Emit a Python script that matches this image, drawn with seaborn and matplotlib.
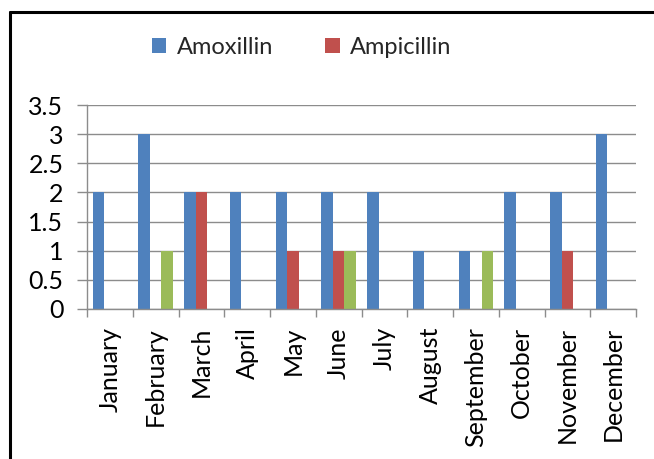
import numpy as np
import pandas as pd
import matplotlib
matplotlib.use("Agg")
import matplotlib.pyplot as plt
import seaborn as sns
from matplotlib.lines import Line2D

months = ["January", "February", "March", "April", "May", "June", "July",
          "August", "September", "October", "November", "December"]
amoxillin = [2, 3, 2, 2, 2, 2, 2, 1, 1, 2, 2, 3]
ampicillin = [0, 0, 2, 0, 1, 1, 0, 0, 0, 0, 1, 0]
other = [0, 1, 0, 0, 0, 1, 0, 0, 1, 0, 0, 0]
series_names = ["Amoxillin", "Ampicillin", "Other"]
series_colors = ["#4F81BD", "#C0504D", "#9BBB59"]
y_ticks = [0, 0.5, 1, 1.5, 2, 2.5, 3, 3.5]

df = pd.DataFrame({
    "Month": months * 3,
    "Count": amoxillin + ampicillin + other,
    "Series": [s for s in series_names for _ in months],
})

sns.set_theme(style="white")
plt.rcParams["font.family"] = ["Lato", "DejaVu Sans"]

fig = plt.figure(figsize=(6.54, 4.59), dpi=100)
ax = fig.add_axes([87 / 654, 1 - 309 / 459, (636 - 87) / 654, (309 - 105) / 459])

sns.barplot(data=df, x="Month", y="Count", hue="Series", order=months,
            hue_order=series_names, palette=series_colors, width=0.75,
            saturation=1, dodge=True, ax=ax, legend=True)

for bar in ax.patches:
    bar.set_edgecolor("none")

ax.set_ylim(0, 3.5)
ax.set_xlim(-0.5, len(months) - 0.5)
ax.set_yticks(y_ticks, labels=[f"{v:g}" for v in y_ticks])
ax.set_xticks(np.arange(-0.5, len(months), 1), labels=[""] * (len(months) + 1))
ax.set_xticks(np.arange(len(months)), labels=months, minor=True)
ax.set_xlabel("")
ax.set_ylabel("")

ax.grid(axis="y", color="#8C8C8C", linewidth=1.0)
ax.set_axisbelow(True)
for side in ["top", "right"]:
    ax.spines[side].set_visible(False)
for side in ["left", "bottom"]:
    ax.spines[side].set_color("#8C8C8C")
    ax.spines[side].set_linewidth(1.0)

ax.tick_params(axis="y", which="major", length=7, width=1.0, color="#8C8C8C",
               pad=10, labelsize=18, labelcolor="black", left=True)
ax.tick_params(axis="x", which="major", length=6, width=1.0, color="#8C8C8C",
               bottom=True)
ax.tick_params(axis="x", which="minor", length=0, pad=13, labelsize=18,
               labelcolor="black", labelrotation=90, bottom=True)

handles, labels = ax.get_legend_handles_labels()
ax.get_legend().remove()
fig.legend(handles[:2], labels[:2], loc="center left",
           bbox_to_anchor=(131 / 654, 1 - 47 / 459),
           ncol=2, frameon=False, fontsize=17, handlelength=0.6, handleheight=0.6,
           handletextpad=0.45, columnspacing=2.2)

# frame around the chart area (top and left edges)
fig.add_artist(Line2D([9.5 / 654, 9.5 / 654], [0, 1 - 11.5 / 459], color="black",
                      linewidth=2.2, transform=fig.transFigure))
fig.add_artist(Line2D([9.5 / 654, 1], [1 - 11.5 / 459, 1 - 11.5 / 459], color="black",
                      linewidth=2.2, transform=fig.transFigure))

fig.savefig("out.png", dpi=100, facecolor="white")
